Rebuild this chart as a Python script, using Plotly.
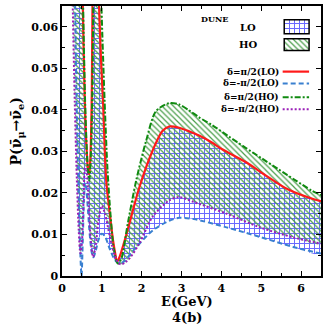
import plotly.graph_objects as go

# ---- data ----
E_red = [0.40, 0.49, 0.523, 0.573, 0.615, 0.65, 0.68, 0.705, 0.73, 0.75, 0.765, 0.80, 0.86, 0.93, 0.98, 1.03, 1.11, 1.20,
         1.28, 1.34, 1.38, 1.445, 1.55, 1.69, 1.94, 2.27, 2.52, 2.69, 2.94, 3.2, 3.44, 3.75, 4.02, 4.6, 5.1, 5.68, 6.34, 6.5]
P_red = [0.13, 0.09, 0.065, 0.042, 0.031, 0.026, 0.0245, 0.027, 0.034, 0.046, 0.065, 0.09, 0.10, 0.065, 0.052, 0.042,
         0.023, 0.015, 0.0086, 0.0052, 0.0034, 0.0046, 0.0078, 0.0126, 0.0213, 0.0301, 0.0349, 0.0360, 0.0357, 0.0348,
         0.0338, 0.0322, 0.0305, 0.0275, 0.0243, 0.0208, 0.0184, 0.0180]

E_green = [0.40, 0.49, 0.53, 0.58, 0.62, 0.655, 0.685, 0.71, 0.74, 0.765, 0.785, 0.82, 0.90, 0.99, 1.07, 1.14, 1.22, 1.30,
           1.40, 1.49, 1.65, 1.86, 2.11, 2.36, 2.69, 2.94, 3.2, 3.44, 3.77, 4.2, 4.6, 5.0, 5.43, 5.85, 6.26, 6.5]
P_green = [0.13, 0.09, 0.065, 0.042, 0.031, 0.025, 0.023, 0.026, 0.034, 0.047, 0.065, 0.09, 0.10, 0.065, 0.042, 0.026,
           0.0145, 0.0065, 0.003, 0.0042, 0.0126, 0.0229, 0.0325, 0.0397, 0.0416, 0.0413, 0.0398, 0.0382, 0.0363, 0.0335,
           0.0309, 0.0284, 0.0257, 0.0231, 0.0206, 0.0195]

E_blue = [0.28, 0.33, 0.365, 0.41, 0.45, 0.49, 0.52, 0.55, 0.58, 0.61, 0.65, 0.70, 0.75, 0.79, 0.85, 0.92, 1.0, 1.08, 1.2,
          1.33, 1.43, 1.54, 1.87, 2.28, 2.69, 2.94, 3.31, 4.13, 4.97, 5.8, 6.5]
P_blue = [0.10, 0.065, 0.042, 0.022, 0.008, 0.0, 0.008, 0.018, 0.0225, 0.021, 0.016, 0.0095, 0.0055, 0.0045, 0.0062,
          0.0088, 0.0102, 0.0095, 0.0065, 0.0038, 0.003, 0.0034, 0.0070, 0.0110, 0.0133, 0.0140, 0.0137, 0.0117, 0.0094,
          0.0070, 0.0054]

E_purple = [0.22, 0.27, 0.32, 0.37, 0.42, 0.46, 0.50, 0.54, 0.58, 0.62, 0.67, 0.72, 0.78, 0.84, 0.92, 1.0, 1.08, 1.2,
            1.32, 1.42, 1.5, 1.6, 1.7, 1.94, 2.27, 2.69, 2.94, 3.31, 4.13, 4.97, 5.8, 6.5]
P_purple = [0.10, 0.065, 0.042, 0.024, 0.011, 0.0055, 0.008, 0.018, 0.026, 0.025, 0.017, 0.009, 0.0046, 0.007, 0.0135,
            0.0169, 0.015, 0.0095, 0.005, 0.0031, 0.0028, 0.0034, 0.0043, 0.0078, 0.0142, 0.0182, 0.0190, 0.0178,
            0.0150, 0.0117, 0.0093, 0.0078]

x_ticks = [0, 1, 2, 3, 4, 5, 6]
y_ticks = [0, 0.01, 0.02, 0.03, 0.04, 0.05, 0.06]
y_ticktext = ["0", "0.01", "0.02", "0.03", "0.04", "0.05", "0.06"]

series_names = ["δ=π/2(LO)", "δ=-π/2(LO)", "δ=π/2(HO)", "δ=-π/2(HO)"]

FONT = "DejaVu Serif"
SM = 0.8
LO_PAT = dict(shape="+", fgcolor="#6a6aff", size=5, solidity=0.36, fillmode="replace")
HO_PAT = dict(shape="\\", fgcolor="#4a9e4a", size=4, solidity=0.3, fillmode="replace")

fig = go.Figure()

# LO band (blue grid)
fig.add_trace(go.Scatter(
    x=E_blue + E_red[::-1], y=P_blue + P_red[::-1], mode="lines", fill="toself",
    line=dict(width=0, shape="spline", smoothing=SM), fillcolor="rgba(0,0,0,0)",
    fillpattern=LO_PAT, showlegend=False, hoverinfo="skip"))
# HO band (green hatch)
fig.add_trace(go.Scatter(
    x=E_purple + E_green[::-1], y=P_purple + P_green[::-1], mode="lines", fill="toself",
    line=dict(width=0, shape="spline", smoothing=SM), fillcolor="rgba(0,0,0,0)",
    fillpattern=HO_PAT, showlegend=False, hoverinfo="skip"))

styles = [
    (E_red, P_red, "#ff1a1a", "solid", 2.2),
    (E_blue, P_blue, "#3a80d0", "5px,3px", 2),
    (E_green, P_green, "#108a10", "6px,2px,2px,2px", 2),
    (E_purple, P_purple, "#9a1fb8", "2px,2px", 2),
]
for (ex, py, col, dash, w), nm in zip(styles, series_names):
    fig.add_trace(go.Scatter(x=ex, y=py, mode="lines", name=nm,
                             line=dict(color=col, dash=dash, width=w, shape="spline", smoothing=SM),
                             showlegend=False))

# legend swatches (overlay axis in paper-like units)
x0, x1 = 0.858, 0.954
fig.add_trace(go.Scatter(x=[x0, x1, x1, x0, x0], y=[0.897, 0.897, 0.949, 0.949, 0.897], xaxis="x2", yaxis="y2",
                         mode="lines", fill="toself", line=dict(width=0), fillcolor="rgba(0,0,0,0)",
                         fillpattern=LO_PAT, showlegend=False, hoverinfo="skip"))
fig.add_trace(go.Scatter(x=[x0, x1, x1, x0, x0], y=[0.835, 0.835, 0.879, 0.879, 0.835], xaxis="x2", yaxis="y2",
                         mode="lines", fill="toself", line=dict(width=0), fillcolor="rgba(0,0,0,0)",
                         fillpattern=HO_PAT, showlegend=False, hoverinfo="skip"))

shapes = [
    dict(type="rect", xref="paper", yref="paper", x0=x0, x1=x1, y0=0.897, y1=0.949, line=dict(color="black", width=1.5)),
    dict(type="rect", xref="paper", yref="paper", x0=x0, x1=x1, y0=0.835, y1=0.879, line=dict(color="black", width=1.5)),
]
leg_y = [0.757, 0.713, 0.662, 0.618]
for (ex, py, col, dash, w), yy in zip(styles, leg_y):
    shapes.append(dict(type="line", xref="paper", yref="paper", x0=0.852, x1=0.954, y0=yy, y1=yy,
                       line=dict(color=col, dash=dash, width=w)))


def label(text, x, y, size, xanchor="center", angle=0):
    return dict(text="<b>%s</b>" % text, x=x, y=y, xref="paper", yref="paper", xanchor=xanchor,
                yanchor="middle", showarrow=False, textangle=angle,
                font=dict(family=FONT, size=size, color="black"))


ann = [label(nm, 0.845, yy, 9, xanchor="right") for nm, yy in zip(series_names, leg_y)]
ann.append(label("LO", 0.72, 0.919, 10))
ann.append(label("HO", 0.72, 0.857, 10))
ann.append(label("DUNE", 0.59, 0.952, 8))
ann.append(label("P(ν̄<sub>μ</sub>→ν̄<sub>e</sub>)", -0.172, 0.537, 14, angle=-90))
ann.append(label("E(GeV)", 0.483, -0.096, 13))
ann.append(label("4(b)", 0.483, -0.154, 13))

axis_common = dict(showgrid=False, zeroline=False, showline=True, linecolor="black", linewidth=1.5,
                   mirror="ticks", ticks="inside", ticklen=5, tickcolor="black", tickwidth=1,
                   tickfont=dict(family=FONT, size=11, color="black", weight="bold"))

fig.update_layout(
    width=327, height=327, margin=dict(l=62, r=4, t=4, b=51),
    plot_bgcolor="white", paper_bgcolor="white", showlegend=False,
    xaxis=dict(range=[0, 6.5], tickvals=x_ticks, ticktext=[str(v) for v in x_ticks], ticklabelstandoff=1,
               minor=dict(dtick=0.5, ticks="inside", ticklen=3, tickcolor="black"), **axis_common),
    yaxis=dict(range=[0, 0.065], tickvals=y_ticks, ticktext=y_ticktext,
               minor=dict(dtick=0.005, ticks="inside", ticklen=3, tickcolor="black"), **axis_common),
    xaxis2=dict(overlaying="x", range=[0, 1], visible=False, anchor="y2"),
    yaxis2=dict(overlaying="y", range=[0, 1], visible=False, anchor="x2"),
    shapes=shapes, annotations=ann,
)

fig.write_html("out.html", config={"displayModeBar": False},
               post_script="document.body.style.margin='0';document.body.style.padding='0';")
